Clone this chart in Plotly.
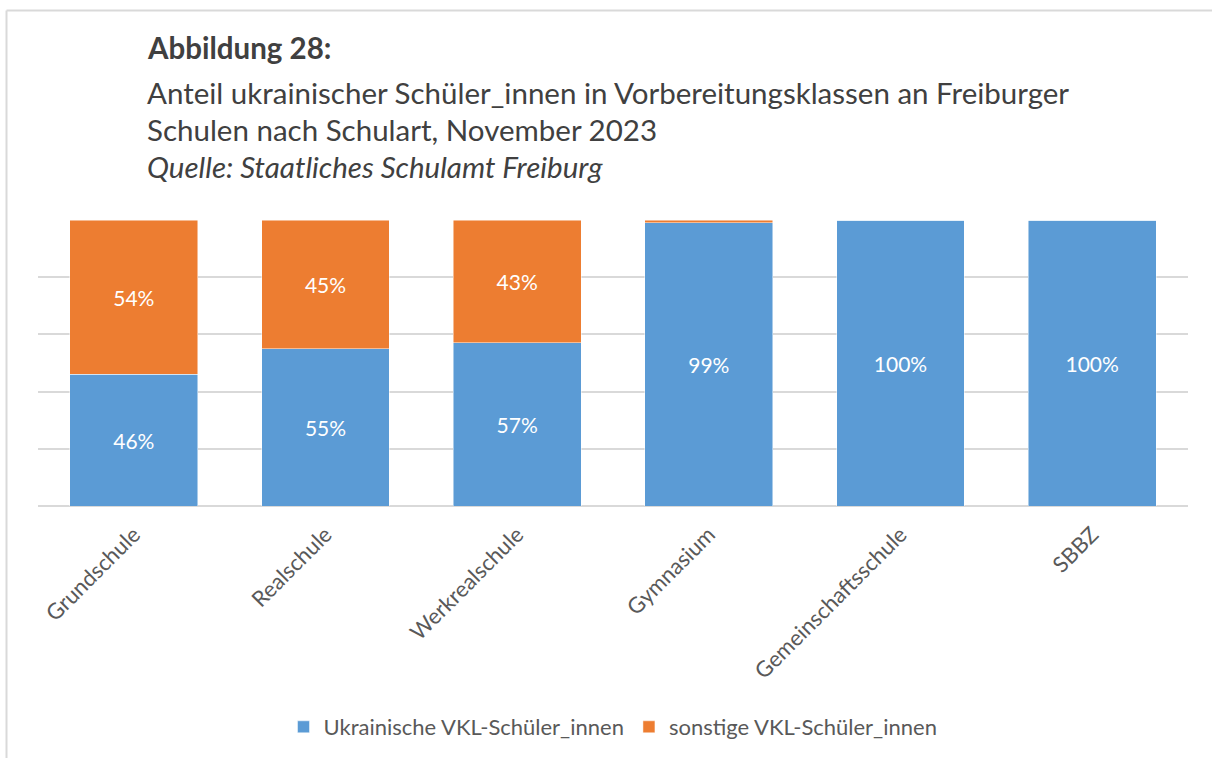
import plotly.graph_objects as go

categories = ["Grundschule", "Realschule", "Werkrealschule", "Gymnasium", "Gemeinschaftsschule", "SBBZ"]
ukrainisch = [46, 55, 57, 99, 100, 100]
sonstige = [54, 45, 43, 1, 0, 0]
series_names = ["Ukrainische VKL-Schüler_innen", "sonstige VKL-Schüler_innen"]
title_lines = [
    "<b>Abbildung 28:</b>",
    "Anteil ukrainischer Schüler_innen in Vorbereitungsklassen an Freiburger",
    "Schulen nach Schulart, November 2023",
    "<i>Quelle: Staatliches Schulamt Freiburg</i>",
]

BLUE = "#5B9BD5"
ORANGE = "#ED7D31"
FONT = "Lato"
W, H = 1212, 758
L, R, T, B = 38, 24, 220, 252
pw, ph = W - L - R, H - T - B


def px_x(x):
    return (x - L) / pw


def px_y(y):
    return (H - B - y) / ph


def labels(vals):
    return [f"{v}%" if v >= 5 else "" for v in vals]


fig = go.Figure()
for name, vals, col in [(series_names[0], ukrainisch, BLUE), (series_names[1], sonstige, ORANGE)]:
    fig.add_trace(go.Bar(
        x=categories, y=vals, name=name,
        marker=dict(color=col, line=dict(color="rgba(255,255,255,0.6)", width=0.8)),
        text=labels(vals), textposition="inside", insidetextanchor="middle",
        textfont=dict(color="white", size=21, family=FONT),
        textangle=0, cliponaxis=False,
    ))

fig.update_layout(
    barmode="stack", bargap=0.333,
    width=W, height=H,
    margin=dict(l=L, r=R, t=T, b=B, autoexpand=False),
    paper_bgcolor="white", plot_bgcolor="white",
    font=dict(family=FONT, color="#595959"),
    xaxis=dict(tickangle=-45, tickfont=dict(size=22, color="#595959", family=FONT),
               showgrid=False, ticks="outside", ticklen=6, tickcolor="rgba(0,0,0,0)",
               showline=False, fixedrange=True),
    yaxis=dict(range=[0, 100], dtick=20, showticklabels=False, gridcolor="#d9d9d9",
               gridwidth=1.5, zeroline=True, zerolinecolor="#d9d9d9", zerolinewidth=1.5,
               fixedrange=True),
    legend=dict(orientation="h", x=0.5, xanchor="center", y=px_y(727), yanchor="middle",
                font=dict(size=22, color="#595959", family=FONT), traceorder="normal",
                itemwidth=30),
    showlegend=True,
)

title_y = [47, 92, 129, 167]
for txt, yy in zip(title_lines, title_y):
    fig.add_annotation(text=txt, xref="paper", yref="paper", x=px_x(145), y=px_y(yy),
                       xanchor="left", yanchor="middle", showarrow=False,
                       font=dict(size=29.5, color="#404040", family=FONT))

# chart border (top and left edges visible)
fig.add_shape(type="line", xref="paper", yref="paper", x0=px_x(6.5), x1=px_x(1300),
              y0=px_y(10.5), y1=px_y(10.5), line=dict(color="#d9d9d9", width=2))
fig.add_shape(type="line", xref="paper", yref="paper", x0=px_x(6.5), x1=px_x(6.5),
              y0=px_y(10.5), y1=px_y(900), line=dict(color="#d9d9d9", width=2))

fig.write_html("out.html", config={"displayModeBar": False},
               post_script="document.body.style.margin='0';")
